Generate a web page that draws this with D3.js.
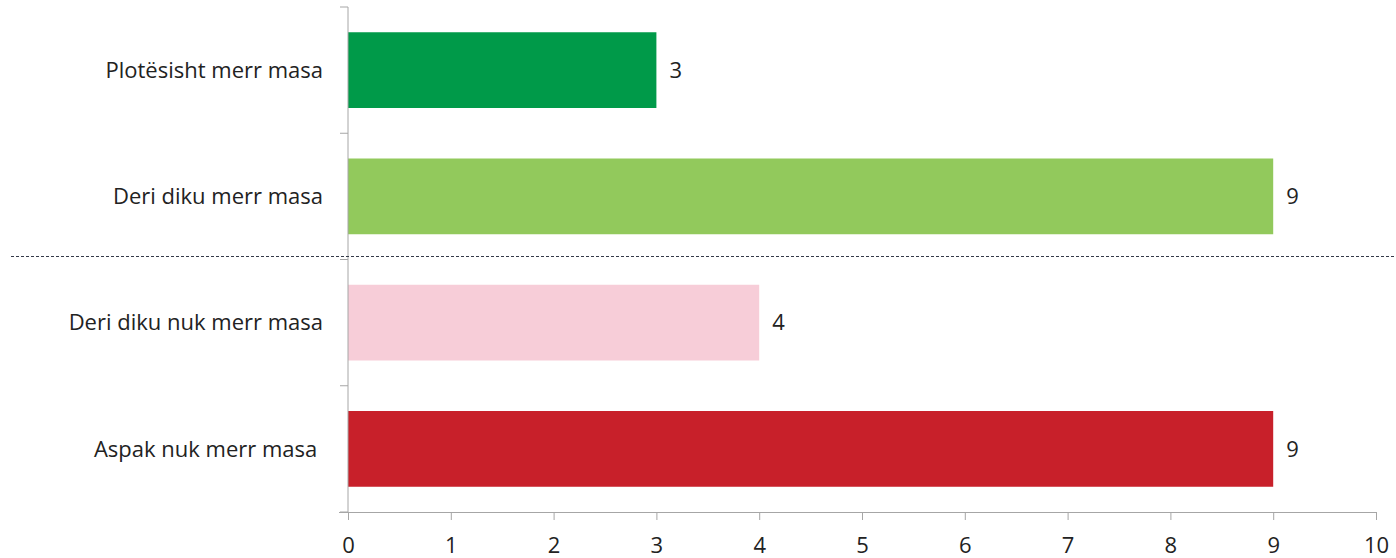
<!DOCTYPE html>
<html><head><meta charset="utf-8">
<script src="https://cdn.jsdelivr.net/npm/d3@7"></script>
<style>body{margin:0;background:#fff}svg{display:block}text{font-family:"Open Sans",sans-serif;fill:#222}</style>
</head><body><svg id="c" width="1396" height="558"></svg>
<script>
const categories = ["Plotësisht merr masa","Deri diku merr masa","Deri diku nuk merr masa","Aspak nuk merr masa "];
const values = [3, 9, 4, 9];
const colors = ["#009a49","#92c95c","#f7cdd8","#c8202a"];
const xTicks = [0,1,2,3,4,5,6,7,8,9,10];

const svg = d3.select("#c");
const x = d3.scaleLinear().domain([0,10]).range([348,1376]);
const y = d3.scaleBand().domain(categories).range([7,512]).paddingInner(0.4).paddingOuter(0.2);
const axisColor = "#a6a6a6";
const fs = "22px";

// bars
svg.selectAll("rect.bar").data(values).join("rect")
  .attr("x", x(0)).attr("y",(d,i)=>y(categories[i]))
  .attr("width", d=>x(d)-x(0)).attr("height", y.bandwidth())
  .attr("fill",(d,i)=>colors[i]);

// value labels
svg.selectAll("text.val").data(values).join("text")
  .attr("x", d=>x(d)+13).attr("y",(d,i)=>y(categories[i])+y.bandwidth()/2)
  .attr("dy","0.35em").style("font-size",fs).text(d=>d);

// y axis
const gy = svg.append("g").attr("transform",`translate(${x(0)},0)`);
gy.append("line").attr("x1",0).attr("x2",0).attr("y1",7).attr("y2",512).attr("stroke",axisColor);
const bandStep = (512-7)/categories.length;
d3.range(categories.length+1).forEach(i=>{
  gy.append("line").attr("x1",-8).attr("x2",0).attr("y1",7+i*bandStep).attr("y2",7+i*bandStep).attr("stroke",axisColor);
});
svg.selectAll("text.cat").data(categories).join("text")
  .attr("x",323).attr("y",d=>y(d)+y.bandwidth()/2).attr("dy","0.35em")
  .attr("text-anchor","end").style("white-space","pre").style("font-size",fs).text(d=>d);

// x axis
const gx = svg.append("g").attr("transform","translate(0,512)");
gx.call(d3.axisBottom(x).tickValues(xTicks).tickSize(8).tickSizeOuter(0).tickFormat(d3.format("d")));
gx.select(".domain").attr("stroke",axisColor).attr("d",`M339,0.5H${x(10)}`);
gx.selectAll(".tick line").attr("stroke",axisColor);
gx.selectAll(".tick text").attr("y",25).style("font-size",fs).style("font-family","'Open Sans',sans-serif").attr("fill","#222");

// dashed separator
svg.append("line").attr("x1",11).attr("x2",1396).attr("y1",256.5).attr("y2",256.5)
  .attr("stroke","#343a48").attr("stroke-width",1).attr("stroke-dasharray","3,2");
</script></body></html>
